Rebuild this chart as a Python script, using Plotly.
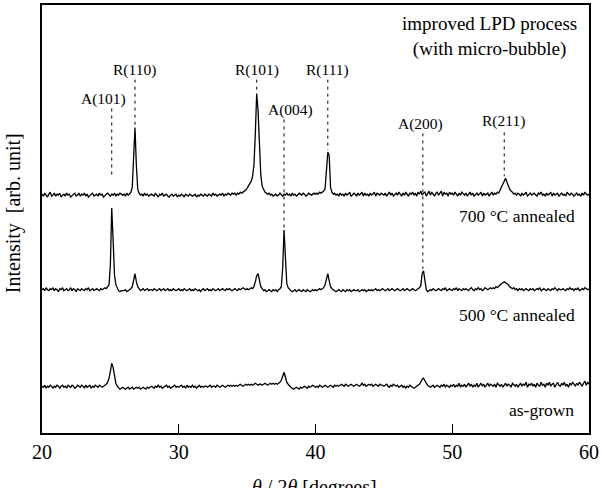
import plotly.graph_objects as go

# ---------------- data ----------------
two_theta = [round(20 + 0.1 * i, 1) for i in range(401)]

# intensities (arb. unit) above each trace's own baseline, 0.1 deg steps, 20.0 ... 60.0
improved = [
    1, -1, 2, 0, -2, 1, 3, -1, 0, 2,      # 20
    -1, 1, 0, 2, -2, 0, 1, -1, 2, 0,      # 21
    1, -2, 0, 1, 2, -1, 0, 2, -1, 1,      # 22
    0, 2, -1, 1, -2, 0, 1, 2, -1, 0,      # 23
    1, -1, 2, 0, 1, -2, 0, 1, 2, 0,       # 24
    -1, 1, 0, 2, -1, 1, 0, 2, 1, 0,       # 25
    1, -1, 2, 0, 1, 3, 8, 40, 68, 30,     # 26
    6, 2, 0, 1, -1, 2, 0, 1, -1, 0,       # 27
    1, 0, -1, 2, 0, -2, 1, 0, 2, -1,      # 28
    0, 1, -1, -2, 0, 1, -1, 0, 1, -2,     # 29
    0, -1, 1, 0, -2, 1, 0, -1, 1, 0,      # 30
    -1, 0, 1, -2, 0, -1, 1, 0, -1, 1,     # 31
    0, -1, 1, 0, -1, 2, 0, 1, -1, 0,      # 32
    1, 0, 2, -1, 1, 0, 2, 1, 0, 2,        # 33
    1, 2, 0, 2, 1, 3, 2, 3, 4, 5,         # 34
    7, 9, 11, 14, 19, 30, 62, 102, 85, 45,  # 35
    20, 9, 5, 3, 2, 1, 2, 0, 1, -1,       # 36
    0, 1, -1, 0, 2, 0, -1, 1, 0, 2,       # 37
    0, 1, -1, 2, 0, 1, -1, 0, 2, 1,       # 38
    0, 2, 1, -1, 0, 2, 1, 0, 1, 2,        # 39
    1, 2, 1, 3, 2, 3, 4, 6, 30, 43,       # 40
    40, 8, 3, 1, 2, 0, 1, -1, 2, 0,       # 41
    1, -1, 2, 0, 1, 3, -1, 0, 2, 1,       # 42
    -1, 2, 0, 1, 3, -1, 2, 0, 1, -1,      # 43
    2, 0, 1, 3, -1, 2, 1, 0, 2, 1,        # 44
    0, 2, -1, 1, 3, 0, 2, -1, 1, 2,       # 45
    0, 3, 1, -1, 2, 0, 3, 1, -1, 2,       # 46
    1, 3, 0, 2, -1, 3, 1, 4, 0, 2,        # 47
    3, -1, 2, 4, 0, 3, 1, -1, 2, 3,       # 48
    0, 2, 4, -1, 3, 1, 2, -1, 3, 1,       # 49
    2, 0, 3, 1, -1, 2, 0, 3, 1, 0,        # 50
    2, -1, 1, 3, 0, 2, -1, 1, 2, 0,       # 51
    1, 3, -1, 2, 0, 1, 2, -1, 1, 3,       # 52
    0, 2, 1, 3, 2, 5, 7, 10, 14, 17,      # 53
    13, 9, 6, 4, 3, 1, 2, 0, 2, 1,        # 54
    -1, 2, 0, 1, 3, -1, 1, 2, 0, 1,       # 55
    2, 0, -1, 2, 1, 3, 0, 1, -1, 2,       # 56
    0, 1, 3, -1, 2, 0, 1, 2, -1, 1,       # 57
    2, 0, 1, -1, 3, 1, 0, 2, 1, -1,       # 58
    1, 2, 0, 1, -1, 2, 0, 3, 1, 0,        # 59
    1,                                    # 60
]

annealed_700 = [
    0, 1, -1, 2, 0, -1, 1, 0, 2, -1,      # 20
    1, 0, -2, 1, 0, 2, -1, 0, 1, -1,      # 21
    0, 2, -1, 1, 0, -2, 1, 0, -1, 1,      # 22
    0, -1, 1, 0, 2, -1, 0, 1, -1, 0,      # 23
    1, 0, -1, 1, 0, 1, 2, 1, 3, 5,        # 24
    25, 82, 50, 15, 5, 1, -1, -2, -1, -1,  # 25
    -1, 0, -2, -1, 0, 1, 3, 9, 16, 8,     # 26
    3, 1, -1, 0, 1, -1, 0, 1, -1, 0,      # 27
    0, -1, 1, 0, -1, 0, 1, -1, 0, 1,      # 28
    -1, 0, 1, -1, 0, -1, 1, 0, -1, 0,     # 29
    1, -1, 0, -1, 1, 0, -1, 0, 1, -1,     # 30
    0, -1, 1, 0, -1, 0, -2, 0, 1, -1,     # 31
    0, 1, -1, 0, -1, 1, 0, -1, 0, 1,      # 32
    -1, 0, 1, 0, -1, 1, 0, 1, 0, -1,      # 33
    0, 1, 0, -1, 1, 0, 1, 2, 1, 0,        # 34
    1, 0, 1, 2, 1, 3, 8, 14, 16, 8,       # 35
    3, 1, -1, 0, -2, -1, 0, -1, -2, 0,    # 36
    -1, 0, -2, 0, 1, 3, 22, 60, 28, 6,    # 37
    2, 0, -1, -2, -1, 0, -2, -1, 0, -1,   # 38
    -2, 0, -1, -2, 0, -1, -2, -1, 0, -1,  # 39
    0, -1, 0, 1, 0, 1, 2, 5, 12, 16,      # 40
    9, 3, 1, 0, -1, -2, -1, 0, -1, -2,    # 41
    0, -1, -2, 0, -1, 0, -2, -1, 0, -1,   # 42
    -1, 0, -2, -1, 0, -1, 0, -2, -1, 0,   # 43
    -1, 0, -1, 0, 1, -1, 0, -1, 0, 1,     # 44
    0, -1, 0, 1, -1, 0, 1, 0, -1, 0,      # 45
    1, 0, -1, 0, 1, -1, 0, 1, 0, -1,      # 46
    0, 1, 0, -1, 0, 1, 2, 4, 16, 19,      # 47
    8, 0, -2, -1, 0, -1, 1, 0, -1, 0,     # 48
    1, 0, -1, 1, 0, 2, -1, 0, 1, 0,       # 49
    -1, 1, 0, 2, -1, 1, 0, -1, 1, 0,      # 50
    1, 0, -1, 1, 2, 0, -1, 1, 0, 2,       # 51
    0, 1, -1, 0, 2, 1, 0, 1, 2, 1,        # 52
    2, 1, 3, 2, 4, 5, 6, 7, 8, 7,         # 53
    6, 5, 3, 2, 1, 2, 0, 1, -1, 1,        # 54
    0, 1, -1, 0, 1, 0, -1, 1, 0, 1,       # 55
    -1, 0, 1, 0, 2, -1, 0, 1, 0, -1,      # 56
    1, 0, -1, 1, 0, 2, 0, -1, 1, 0,       # 57
    0, 1, 0, -1, 1, 0, 2, 0, 1, -1,       # 58
    1, 0, 2, -1, 0, 1, 0, 2, 1, 0,        # 59
    1,                                    # 60
]

as_grown = [
    1, 0, 2, -1, 1, 0, 2, 1, -1, 1,       # 20
    0, 2, 1, -1, 1, 2, 0, 1, -1, 2,       # 21
    1, 0, 2, 1, -1, 0, 2, 1, 0, 2,        # 22
    1, -1, 2, 0, 1, 2, -1, 1, 0, 2,       # 23
    1, 0, 2, 1, 0, 1, 2, 3, 5, 9,         # 24
    16, 24, 20, 11, 4, 1, -1, -2, -1, 0,  # 25
    -1, -2, -1, 0, -2, -1, 0, -2, -1, 0,  # 26
    -1, 0, -2, -1, 0, -1, -2, 0, -1, 0,   # 27
    1, 0, -1, 1, 0, 2, 0, 1, -1, 0,       # 28
    1, 2, 0, 1, -1, 0, 1, 2, 0, 1,        # 29
    0, 1, 2, 0, 1, -1, 2, 0, 1, 0,        # 30
    2, 0, 1, -1, 1, 2, 0, 1, 0, 1,        # 31
    1, 0, 1, 2, 0, 1, 1, 0, 2, 1,         # 32
    0, 1, 2, 1, 0, 1, 2, 1, 2, 1,         # 33
    2, 1, 2, 1, 2, 3, 2, 1, 2, 3,         # 34
    2, 3, 2, 3, 2, 3, 4, 3, 2, 3,         # 35
    3, 2, 3, 4, 3, 2, 3, 4, 3, 4,         # 36
    3, 4, 3, 4, 5, 7, 11, 15, 10, 5,      # 37
    3, 1, 0, -1, -2, -1, 0, -1, -2, 0,    # 38
    -1, 0, 1, 0, -1, 1, 0, 1, 2, 1,       # 39
    0, 1, 0, 2, 1, 0, 1, 2, 1, 0,         # 40
    1, 2, 1, 0, 2, 1, 2, 1, 2, 3,         # 41
    2, 1, 3, 2, 1, 2, 3, 2, 1, 2,         # 42
    3, 2, 1, 2, 4, 2, 3, 1, 2, 3,         # 43
    2, 3, 1, 2, 3, 2, 1, 3, 2, 2,         # 44
    1, 2, 3, 1, 0, 2, 1, 3, 2, 1,         # 45
    2, 0, 1, 2, 0, 1, -1, 1, 0, 2,        # 46
    1, 0, -1, 0, 1, 2, 3, 5, 8, 9,        # 47
    6, 4, 2, 1, 0, 1, 2, 0, 1, 2,         # 48
    1, 0, 2, 1, 3, 0, 2, 1, 0, 2,         # 49
    1, 3, 0, 2, 1, 4, 0, 2, 1, 3,         # 50
    0, 2, 4, 1, 3, 0, 2, 1, 4, 0,         # 51
    2, 4, 1, 3, 0, 2, 4, 1, 3, 2,         # 52
    1, 3, 0, 4, 2, 1, 3, 0, 2, 4,         # 53
    1, 3, 2, 0, 4, 2, 1, 3, 0, 2,         # 54
    4, 1, 3, 2, 5, 0, 3, 2, 4, 1,         # 55
    3, 0, 4, 2, 1, 5, 2, 3, 0, 4,         # 56
    2, 5, 1, 3, 4, 0, 3, 5, 2, 1,         # 57
    4, 2, 5, 1, 3, 0, 4, 2, 5, 3,         # 58
    1, 4, 2, 5, 3, 1, 4, 6, 2, 5,         # 59
    3,                                    # 60
]

series_labels = ["improved LPD process<br>(with micro-bubble)", "700 °C annealed", "as-grown"]
series_offsets = [239, 144, 46]   # vertical stacking offsets (arb. unit)

peak_names = ["A(101)", "R(110)", "R(101)", "A(004)", "R(111)", "A(200)", "R(211)"]
peak_positions = [25.1, 26.8, 35.7, 37.7, 40.9, 47.85, 53.8]

x_ticks = [20, 30, 40, 50, 60]

# ---------------- layout constants ----------------
W, H = 602, 488
ML, MR, MT, MB = 42, 10, 3, 55
Y_TOP = H - MB          # pixel of y = 0
Y_RANGE = H - MT - MB   # 430


def py(p):
    """pixel row -> y value on the stacked intensity axis"""
    return Y_TOP - p


def px_paper(p):
    return (p - ML) / (W - ML - MR)


def py_paper(p):
    return (Y_TOP - p) / Y_RANGE


label_y_px = [97, 68, 68, 108, 68, 123, 120]
label_xshift = [-8, 0, 0, 6, 0, -2, -1]
line_top_px = [107, 78, 78, 118, 78, 132, 131]
line_bot_px = [175, 125, 90, 228, 149, 268, 175]

FONT = "Liberation Serif"

fig = go.Figure()
for vals, off, name in zip([improved, annealed_700, as_grown], series_offsets, series_labels):
    fig.add_trace(go.Scatter(
        x=two_theta, y=[v + off for v in vals], mode="lines",
        line=dict(color="black", width=1.3), name=name, showlegend=False,
        hoverinfo="skip"))

shapes = []
annotations = []
for name, pos, ly, xs, lt, lb in zip(peak_names, peak_positions, label_y_px,
                                     label_xshift, line_top_px, line_bot_px):
    shapes.append(dict(type="line", xref="x", yref="y", x0=pos, x1=pos,
                       y0=py(lt), y1=py(lb),
                       line=dict(color="black", width=1, dash="3px,4px")))
    annotations.append(dict(x=pos, y=py(ly), xref="x", yref="y", text=name,
                            showarrow=False, xshift=xs, xanchor="center", yanchor="middle",
                            font=dict(family=FONT, size=15.5, color="black")))


def add_text(text, xp, yp, size, xanchor="center", angle=0):
    annotations.append(dict(x=px_paper(xp), y=py_paper(yp), xref="paper", yref="paper",
                            text=text, showarrow=False, xanchor=xanchor, yanchor="middle",
                            align="center", textangle=angle,
                            font=dict(family=FONT, size=size, color="black")))


# series labels
add_text(series_labels[0], 492, 35, 19)
add_text(series_labels[1], 520, 215, 17.5)
add_text("500 °C annealed", 520, 314, 17.5)
add_text(series_labels[2], 579, 410, 17.5, xanchor="right")

# axis titles
add_text("<i>θ</i> / 2<i>θ</i> [degrees]", 316, 488, 20)
add_text("Intensity  [arb. unit]", 13, 212, 20, angle=-90)

fig.update_layout(
    width=W, height=H,
    margin=dict(l=ML, r=MR, t=MT, b=MB, pad=0),
    paper_bgcolor="white", plot_bgcolor="white",
    shapes=shapes, annotations=annotations,
    xaxis=dict(range=[20, 60], tickvals=x_ticks, ticktext=[str(t) for t in x_ticks],
               ticks="inside", ticklen=9, tickwidth=1, tickcolor="black",
               showline=True, linecolor="black", linewidth=2, mirror=True,
               showgrid=False, zeroline=False,
               tickfont=dict(family=FONT, size=20, color="black")),
    yaxis=dict(range=[0, Y_RANGE], showticklabels=False, ticks="",
               showline=True, linecolor="black", linewidth=2, mirror=True,
               showgrid=False, zeroline=False),
)

fig.write_html("out.html")
